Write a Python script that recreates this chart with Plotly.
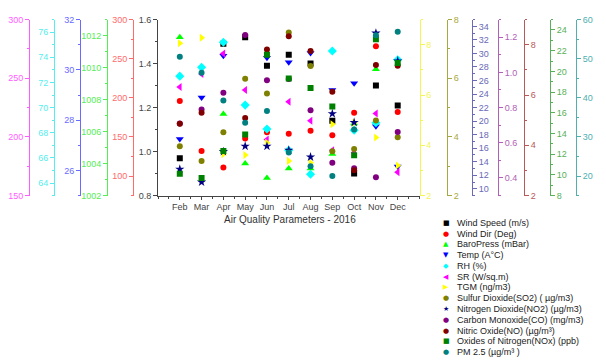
import plotly.graph_objects as go

# ---------------- data ----------------
months = ["Feb", "Mar", "Apr", "May", "Jun", "Jul", "Aug", "Sep", "Oct", "Nov", "Dec"]
month_num = [2, 3, 4, 5, 6, 7, 8, 9, 10, 11, 12]

wind_speed = [0.97, None, 1.49, 1.52, 1.39, 1.44, 1.40, 1.14, 0.90, 1.30, 1.21]
wind_dir = [196, 132, 111, 148, 156, 154, 158, 152, 181, 266, 182]
baro_press = [1011.9, None, 1007.1, 1004.0, 1003.1, 1003.7, 1003.7, 1004.6, 1006.5, 1009.9, None]
temp = [27.25, 28.9, 30.56, None, 30.48, 30.3, 30.67, 29.2, 29.47, 27.76, 26.16]
rh = [72.5, 73.2, 75.2, 70.2, 68.3, 66.6, 64.7, 74.5, 68.2, 68.8, 73.8]
sr = [242.6, 253.6, 271, 240, 197.8, 230, 213.8, 188.7, 186.7, 220, 170]
tgm = [8.06, 8.28, 3.65, 3.61, 4.10, 3.38, 3.31, 4.84, 4.90, 4.31, 3.20]
so2 = [3.68, 3.18, 4.16, 5.98, 5.48, 7.56, 6.42, 3.51, 3.59, 4.56, 3.99]
no2 = [12.9, 11.0, 15.5, 16.3, 16.3, 15.7, 14.7, 21.1, 19.8, 33.0, 28.9]
co = [0.709, 0.789, 0.884, 1.212, 0.956, 0.963, 0.785, 0.486, 0.455, 0.404, 0.662]
no = [4.86, 5.30, None, 5.09, 7.81, 8.34, 7.75, 6.13, 3.01, 7.19, 7.16]
nox = [10.1, 9.7, 12.3, 13.9, 21.6, 19.3, 18.4, 16.6, 11.9, 23.1, 20.8]
pm25 = [50.5, 46.4, 39.3, 33.6, 36.6, 26.0, 22.5, 20.0, 31.9, 56.0, 56.9]

series_names = [
    "Wind Speed (m/s)", "Wind Dir (Deg)", "BaroPress (mBar)", "Temp (A°C)", "RH (%)",
    "SR (W/sq.m)", "TGM (ng/m3)", "Sulfur Dioxide(SO2) ( µg/m3)",
    "Nitrogen Dioxide(NO2) (µg/m3)", "Carbon Monoxide(CO) (mg/m3)",
    "Nitric Oxide(NO) (µg/m³)", "Oxides of Nitrogen(NOx) (ppb)", "PM 2.5 (µg/m³ )",
]
axis_title = "Air Quality Parameters - 2016"

# ---------------- styles ----------------
W, H = 606, 363
series_values = [wind_speed, wind_dir, baro_press, temp, rh, sr, tgm, so2, no2, co, no, nox, pm25]
marker_colors = ["#000000", "#ff0000", "#00ff00", "#0000ff", "#00ffff", "#ff00ff", "#ffff00",
                 "#808000", "#000080", "#800080", "#800000", "#008000", "#008080"]
marker_symbols = ["square", "circle", "triangle-up", "triangle-down", "diamond", "triangle-left",
                  "triangle-right", "circle", "star", "circle", "circle", "square", "circle"]
legend_glyphs = ["■", "●", "▲", "▼", "◆", "◀", "▶", "●", "★", "●", "●", "■", "●"]
marker_sizes = [6, 6, 7, 7, 7, 7, 7, 6, 7, 6, 6, 6, 6]

# axis: (range, dtick, minor dtick, color, x pixel position or None, side, tick format)
axis_specs = [
    ([0.8, 1.6], 0.2, 0.1, "#444444", None, "left", ".1f"),
    ([75, 300], 50, 25, "#ff6b6b", 133, "left", ""),
    ([1002, 1013], 2, 1, "#55ee55", 107, "left", ""),
    ([25, 32], 2, 1, "#6a6aff", 80, "left", ""),
    ([63, 77], 2, 1, "#55eeee", 54, "left", ""),
    ([150, 300], 50, 25, "#ff5cff", 29, "left", ""),
    ([2, 9], 2, 1, "#f4f455", 419.5, "right", ""),
    ([2, 8], 2, 1, "#a8a840", 447, "right", ""),
    ([9, 35], 2, 1, "#6a6ab8", 472, "right", ""),
    ([0.3, 1.3], 0.2, 0.1, "#b060b8", 498, "right", ".1f"),
    ([2, 9], 2, 1, "#b85858", 524, "right", ""),
    ([8, 25], 2, 1, "#58b058", 550, "right", ""),
    ([15, 60], 10, 5, "#50b0b0", 576, "right", ""),
]

plot_left, plot_right, plot_top, plot_bottom = 158, 419.5, 15, 196
xdom = [plot_left / W, plot_right / W]
ydom = [1 - plot_bottom / H, 1 - plot_top / H]

fig = go.Figure()
for i, vals in enumerate(series_values):
    yref = "y" if i == 0 else f"y{i + 1}"
    fig.add_trace(go.Scatter(
        x=month_num, y=vals, mode="markers", name=series_names[i], yaxis=yref,
        marker=dict(symbol=marker_symbols[i], color=marker_colors[i], size=marker_sizes[i],
                    line=dict(width=0)),
        showlegend=False,
    ))

layout = dict(
    width=W, height=H, margin=dict(l=0, r=0, t=0, b=0),
    paper_bgcolor="white", plot_bgcolor="white", showlegend=False,
    font=dict(family="Liberation Sans, Arial, sans-serif", size=9, color="#333"),
    xaxis=dict(
        domain=xdom, range=[1, 13], tickmode="array", tickvals=month_num, ticktext=months,
        ticks="outside", ticklen=3, tickcolor="#444", showline=True, linecolor="#444",
        linewidth=1, showgrid=False, zeroline=False,
        tickfont=dict(size=9, color="#444"),
        minor=dict(tickmode="linear", tick0=1, dtick=0.5, ticks="outside", ticklen=2,
                   tickcolor="#444", showgrid=False),
    ),
)
for i, (rng, dt, mdt, col, pos, side, fmt) in enumerate(axis_specs):
    ax = dict(
        range=rng, dtick=dt, tick0=0, ticks="outside", ticklen=4, tickwidth=1, tickcolor=col,
        showline=True, linecolor=col, linewidth=1, showgrid=False, zeroline=False,
        tickfont=dict(size=9, color=col), side=side, tickformat=fmt,
        minor=dict(dtick=mdt, tick0=0, ticks="outside", ticklen=2, tickcolor=col, showgrid=False),
    )
    if i == 0:
        ax.update(domain=ydom, anchor="x")
        layout["yaxis"] = ax
    else:
        ax.update(anchor="free", position=pos / W, overlaying="y")
        layout[f"yaxis{i + 1}"] = ax

fig.update_layout(**layout)

annotations = [dict(
    text=axis_title, x=(plot_left + 132) / W, y=1 - 221 / H, xref="paper", yref="paper",
    showarrow=False, xanchor="center", yanchor="middle", font=dict(size=10, color="#333"),
)]
leg_top, leg_step = 224, 11.08
for i, name in enumerate(series_names):
    yy = 1 - (leg_top + i * leg_step) / H
    annotations.append(dict(
        text=legend_glyphs[i], x=446 / W, y=yy, xref="paper", yref="paper", showarrow=False,
        xanchor="center", yanchor="middle",
        font=dict(size=7, color=marker_colors[i], family="DejaVu Sans"),
    ))
    annotations.append(dict(
        text=name, x=455 / W, y=yy, xref="paper", yref="paper", showarrow=False,
        xanchor="left", yanchor="middle", font=dict(size=9, color="#222"),
    ))
fig.update_layout(annotations=annotations)

fig.write_html("out.html")
